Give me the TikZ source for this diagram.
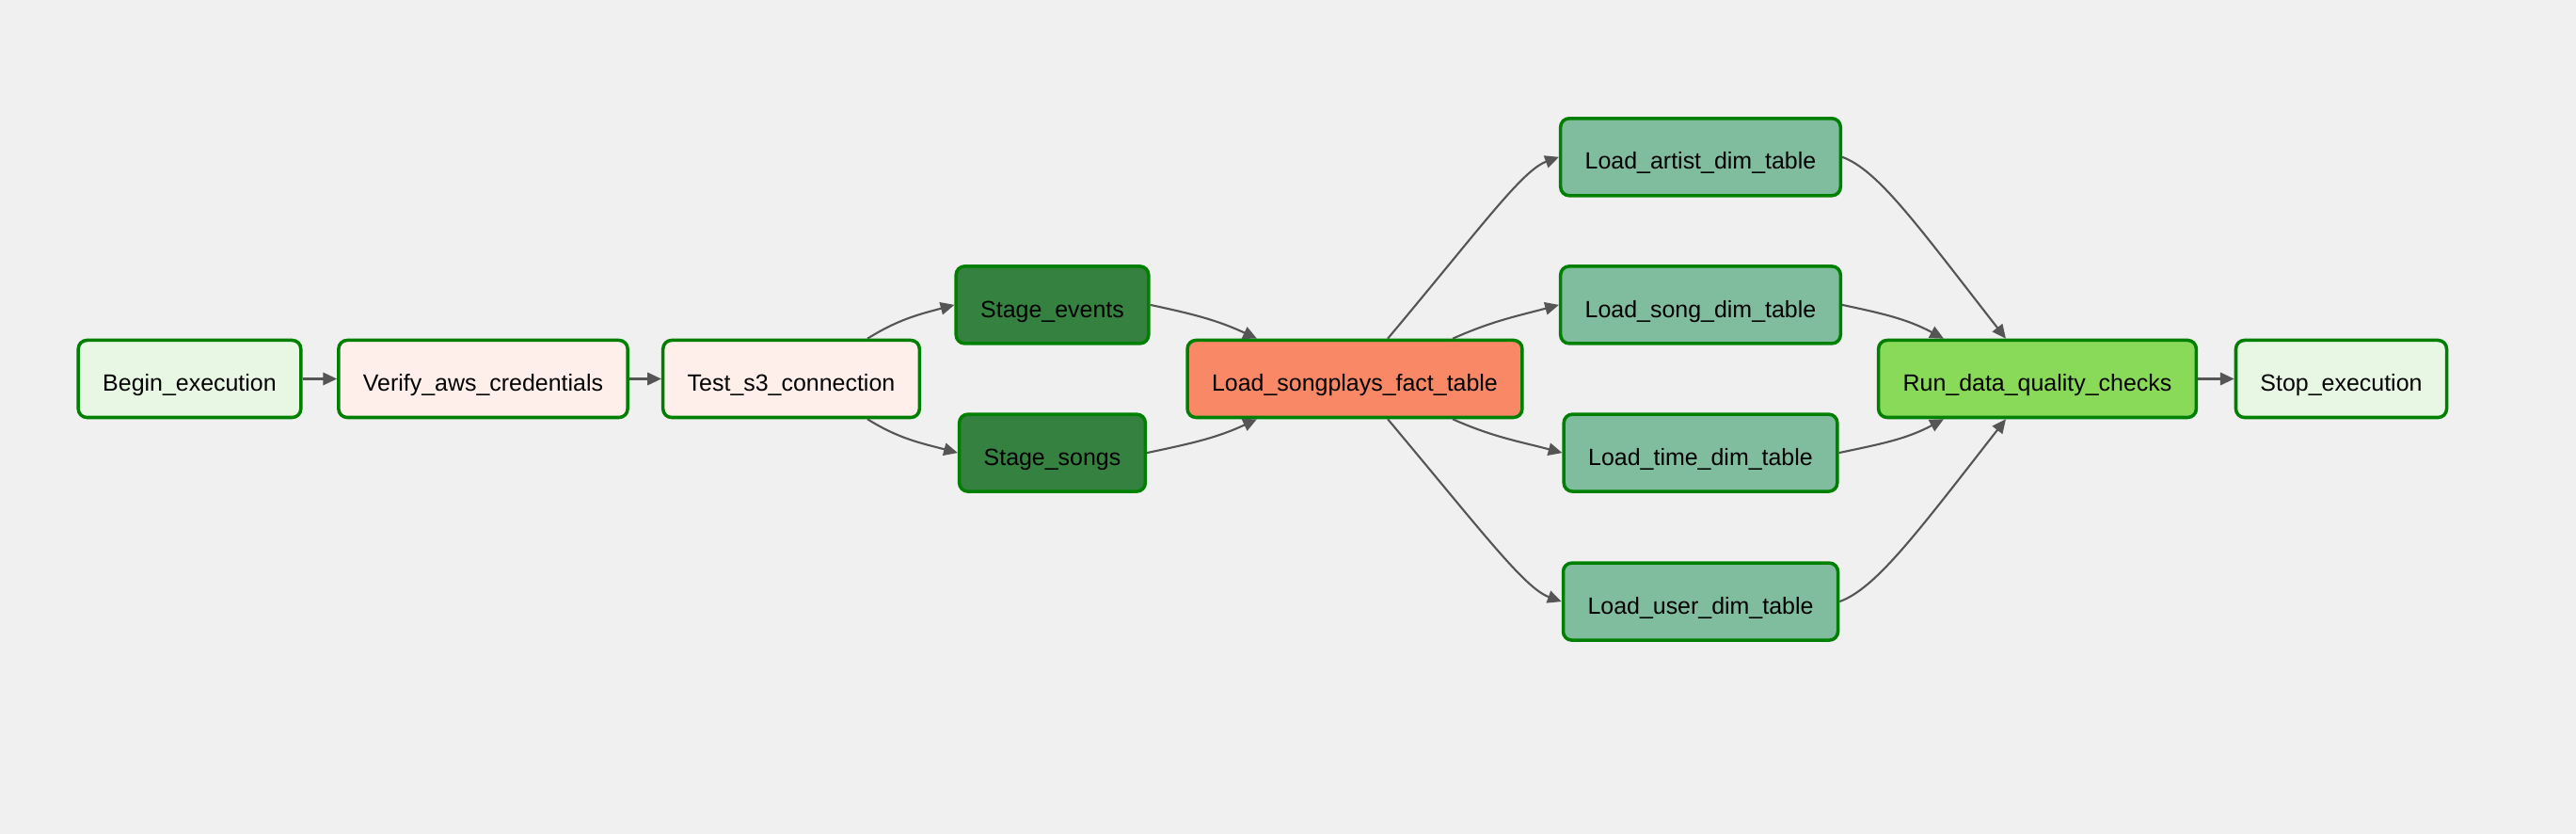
\documentclass[tikz,border=0pt]{standalone}
\usepackage{fontspec}
\setmainfont{Liberation Sans}
\usetikzlibrary{arrows.meta}

\begin{document}
\begin{tikzpicture}[
    >={Triangle[length=4.2pt,width=3.8pt]},
    font=\fontsize{7.1}{8.5}\selectfont,
    task/.style={
        draw=taskborder,
        line width=1pt,
        rounded corners=2.6pt,
        inner xsep=0.26cm,
        text height=1em,
        text depth=0.25em,
        minimum height=0.82cm
    },
    edge/.style={
        ->,
        draw=edgecol,
        line width=0.6pt
    }
]

\definecolor{bgcol}{HTML}{F0F0F0}
\definecolor{taskborder}{HTML}{008000}
\definecolor{edgecol}{HTML}{555555}
\definecolor{dummycol}{HTML}{E8F7E4}
\definecolor{pycol}{HTML}{FFEFEB}
\definecolor{stagecol}{HTML}{358140}
\definecolor{factcol}{HTML}{F98866}
\definecolor{dimcol}{HTML}{80BD9E}
\definecolor{checkcol}{HTML}{89DA59}

\fill[bgcol] (0,0) rectangle (27.38,8.86);
\useasboundingbox (0,0) rectangle (27.38,8.86);

\node[task, fill=dummycol] (begin)  at ( 2.015, 4.835) {Begin\_execution};
\node[task, fill=pycol]    (verify) at ( 5.135, 4.835) {Verify\_aws\_credentials};
\node[task, fill=pycol]    (tests3) at ( 8.410, 4.835) {Test\_s3\_connection};

\node[task, fill=stagecol] (events) at (11.185, 5.621) {Stage\_events};
\node[task, fill=stagecol] (songs)  at (11.185, 4.049) {Stage\_songs};

\node[task, fill=factcol]  (fact)   at (14.400, 4.835) {Load\_songplays\_fact\_table};

\node[task, fill=dimcol]   (artist)  at (18.075, 7.192) {Load\_artist\_dim\_table};
\node[task, fill=dimcol]   (songdim) at (18.075, 5.621) {Load\_song\_dim\_table};
\node[task, fill=dimcol]   (time)    at (18.075, 4.049) {Load\_time\_dim\_table};
\node[task, fill=dimcol]   (user)    at (18.075, 2.469) {Load\_user\_dim\_table};

\node[task, fill=checkcol] (quality) at (21.655, 4.835) {Run\_data\_quality\_checks};
\node[task, fill=dummycol] (stop)    at (24.885, 4.835) {Stop\_execution};

\draw[edge] (begin.east) -- (verify.west);
\draw[edge] (verify.east) -- (tests3.west);

\draw[edge] ([xshift=0.81cm]tests3.north) to[out=32, in=195] (events.west);
\draw[edge] ([xshift=0.81cm]tests3.south) to[out=-32, in=165] (songs.west);

\draw[edge] (events.east) to[out=-12, in=155] ([xshift=-1.04cm]fact.north);
\draw[edge] (songs.east)  to[out=12, in=205]  ([xshift=-1.04cm]fact.south);

\draw[edge] ([xshift=0.35cm]fact.north)
    to[out=50, in=200, out looseness=1.5, in looseness=0.4] (artist.west);
\draw[edge] ([xshift=1.04cm]fact.north) to[out=24, in=195]  (songdim.west);
\draw[edge] ([xshift=1.04cm]fact.south) to[out=-24, in=165] (time.west);
\draw[edge] ([xshift=0.35cm]fact.south)
    to[out=-50, in=160, out looseness=1.5, in looseness=0.4] (user.west);

\draw[edge] (artist.east)
    to[out=-20, in=128, out looseness=0.4, in looseness=1.5] ([xshift=-0.335cm]quality.north);
\draw[edge] (songdim.east) to[out=-12, in=152] ([xshift=-0.995cm]quality.north);
\draw[edge] (time.east)    to[out=12, in=208]  ([xshift=-0.995cm]quality.south);
\draw[edge] (user.east)
    to[out=20, in=232, out looseness=0.4, in looseness=1.5] ([xshift=-0.335cm]quality.south);

\draw[edge] (quality.east) -- (stop.west);

\end{tikzpicture}
\end{document}
